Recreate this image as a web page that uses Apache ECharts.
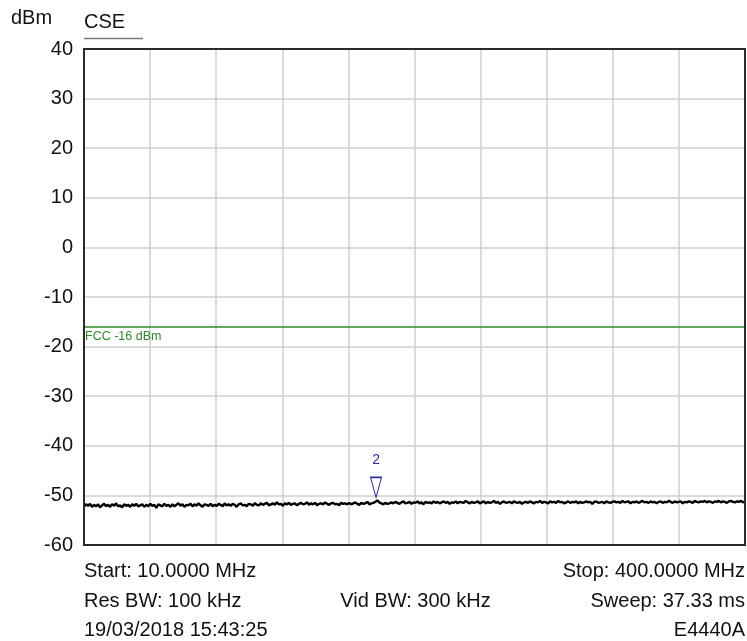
<!DOCTYPE html>
<html>
<head>
<meta charset="utf-8">
<script src="https://cdn.jsdelivr.net/npm/echarts@6/dist/echarts.min.js"></script>
<style>
html,body{margin:0;padding:0;background:#fff;}
#chart{width:747px;height:641px;}
</style>
</head>
<body>
<div id="chart"></div>
<script>
// ---- Data ----
const freqStartMHz = 10;
const freqStopMHz = 400;
const yTicks = [40, 30, 20, 10, 0, -10, -20, -30, -40, -50, -60];
const traceLevels = [
-52.2,-51.8,-52.1,-51.7,-52.3,-51.9,-52.2,-51.8,-52.4,-52.0,-51.7,-52.2,-51.9,-52.3,-51.8,-52.1,-51.6,-52.2,-52.0,-52.4,-51.8,-52.1,
-51.9,-52.3,-51.8,-52.1,-51.7,-52.2,-52.0,-51.8,-52.3,-51.9,-52.2,-51.7,-52.1,-51.9,-52.5,-51.8,-52.0,-52.2,-51.7,-52.1,-51.9,-52.3,
-51.8,-52.2,-51.9,-51.6,-52.1,-51.8,-52.3,-51.9,-52.0,-51.7,-52.2,-51.8,-52.1,-51.6,-52.0,-52.3,-51.8,-51.9,-52.1,-51.7,-52.2,-51.9,
-52.1,-51.7,-51.9,-52.2,-51.6,-52.0,-51.8,-52.1,-51.7,-51.9,-52.3,-51.8,-51.6,-52.0,-51.9,-52.2,-51.7,-51.8,-52.1,-51.6,-51.9,-52.0,
-51.6,-51.9,-51.7,-51.5,-52.0,-51.8,-51.6,-51.9,-51.4,-51.8,-51.7,-52.1,-51.6,-51.8,-51.5,-51.9,-51.7,-51.6,-52.0,-51.7,-51.5,-51.8,
-51.7,-51.4,-51.9,-51.6,-51.8,-51.5,-52.0,-51.7,-51.6,-51.8,-51.4,-51.7,-51.9,-51.6,-51.5,-51.8,-51.7,-52.0,-51.5,-51.7,-51.6,-51.8,
-51.5,-51.8,-51.6,-51.4,-51.7,-51.9,-51.5,-51.7,-51.6,-51.3,-51.8,-51.6,-51.5,-51.3,-51.0,-51.4,-51.6,-51.8,-51.5,-51.7,-51.6,-51.4,
-51.6,-51.3,-51.5,-51.7,-51.4,-51.2,-51.6,-51.5,-51.3,-51.7,-51.4,-51.5,-51.2,-51.6,-51.4,-51.8,-51.3,-51.5,-51.4,-51.6,-51.2,-51.5,
-51.3,-51.6,-51.4,-51.2,-51.5,-51.3,-51.7,-51.4,-51.5,-51.2,-51.6,-51.3,-51.4,-51.5,-51.1,-51.4,-51.6,-51.3,-51.5,-51.4,-51.2,-51.6,
-51.4,-51.2,-51.6,-51.3,-51.5,-51.4,-51.1,-51.5,-51.3,-51.7,-51.4,-51.2,-51.5,-51.4,-51.3,-51.6,-51.2,-51.4,-51.5,-51.3,-51.7,-51.4,
-51.3,-51.5,-51.2,-51.4,-51.6,-51.3,-51.4,-51.1,-51.5,-51.3,-51.4,-51.6,-51.2,-51.4,-51.3,-51.5,-51.1,-51.4,-51.3,-51.6,-51.4,-51.2,
-51.5,-51.3,-51.4,-51.2,-51.6,-51.3,-51.5,-51.4,-51.2,-51.4,-51.3,-51.7,-51.3,-51.2,-51.5,-51.4,-51.3,-51.6,-51.2,-51.4,-51.5,-51.3,
-51.2,-51.4,-51.3,-51.5,-51.1,-51.4,-51.3,-51.2,-51.6,-51.3,-51.4,-51.2,-51.5,-51.3,-51.1,-51.4,-51.3,-51.5,-51.2,-51.4,-51.3,-51.6,
-51.3,-51.2,-51.5,-51.3,-51.4,-51.1,-51.3,-51.5,-51.2,-51.4,-51.3,-51.2,-51.6,-51.3,-51.4,-51.2,-51.3,-51.5,-51.1,-51.3,-51.4,-51.2,
-51.3,-51.1,-51.4,-51.2,-51.3,-51.5,-51.2,-51.3,-51.1,-51.4,-51.2,-51.3,-51.5,-51.2,-51.1,-51.3,-51.4,-51.2,-51.3,-51.1,-51.4,-51.2
];
const limitLevel = -16;
const limitLabel = 'FCC -16 dBm';
const markerName = '2';
const markerFreqMHz = 182.3;
const markerLevel = -51.0;
const yUnit = 'dBm';
const traceTitle = 'CSE';
const footerRows = [
  ['Start: 10.0000 MHz', '', 'Stop: 400.0000 MHz'],
  ['Res BW: 100 kHz', 'Vid BW: 300 kHz', 'Sweep: 37.33 ms'],
  ['19/03/2018 15:43:25', '', 'E4440A']
];

// ---- Build ----
const step = (freqStopMHz - freqStartMHz) / (traceLevels.length - 1);
const traceData = traceLevels.map((v, i) => [freqStartMHz + i * step, v]);

const FONT = 'Liberation Sans, Arial, sans-serif';
const L = 84, R = 745, T = 49, B = 545;
const rowY = [571, 601, 630];
const graphics = [
  {type:'text', x:11, y:18, style:{text:yUnit, font:'20px ' + FONT, fill:'#111', textVerticalAlign:'middle'}},
  {type:'text', x:84, y:22, style:{text:traceTitle, font:'20px ' + FONT, fill:'#111', textVerticalAlign:'middle'}},
  {type:'line', shape:{x1:84, y1:38.5, x2:143, y2:38.5}, style:{stroke:'#777', lineWidth:1.5}}
];
footerRows.forEach((row, r) => {
  if (row[0]) graphics.push({type:'text', x:L, y:rowY[r], style:{text:row[0], font:'20px ' + FONT, fill:'#111', textAlign:'left', textVerticalAlign:'middle'}});
  if (row[1]) graphics.push({type:'text', x:415.5, y:rowY[r], style:{text:row[1], font:'20px ' + FONT, fill:'#111', textAlign:'center', textVerticalAlign:'middle'}});
  if (row[2]) graphics.push({type:'text', x:R, y:rowY[r], style:{text:row[2], font:'20px ' + FONT, fill:'#111', textAlign:'right', textVerticalAlign:'middle'}});
});

const chart = echarts.init(document.getElementById('chart'), null, {renderer:'canvas'});
chart.setOption({
  animation:false,
  backgroundColor:'#fff',
  grid:{left:L, right:747-R, top:T, bottom:641-B, show:true, borderColor:'#2a2a2a', borderWidth:2, containLabel:false, z:10},
  xAxis:[
    {type:'value', min:freqStartMHz, max:freqStopMHz, show:false},
    {type:'value', min:0, max:10, interval:1, position:'bottom',
     axisLine:{show:false}, axisTick:{show:false}, axisLabel:{show:false},
     splitLine:{show:true, showMinLine:false, showMaxLine:false, lineStyle:{color:'#cfcfcf', width:1.5}}}
  ],
  yAxis:{type:'value', min:yTicks[yTicks.length-1], max:yTicks[0], interval:10,
    axisLine:{show:false}, axisTick:{show:false},
    axisLabel:{fontSize:20, fontFamily:FONT, color:'#111', margin:11},
    splitLine:{show:true, showMinLine:false, showMaxLine:false, lineStyle:{color:'#cfcfcf', width:1.5}}},
  series:[{
    type:'line', xAxisIndex:0, data:traceData, showSymbol:false, symbol:'none',
    lineStyle:{color:'#000', width:2.4},
    markLine:{
      silent:true, symbol:'none',
      lineStyle:{color:'#2a8a2a', width:1.5, type:'solid'},
      label:{show:true, position:'insideStartBottom', formatter:limitLabel, color:'#2a8a2a',
             fontFamily:FONT, fontSize:12.5, distance:[1, 3]},
      data:[{yAxis:limitLevel}]
    },
    markPoint:{
      silent:true,
      symbol:'path://M0,0 L10,0 L5,20 Z',
      symbolSize:[11, 20],
      symbolOffset:[0, -13],
      itemStyle:{color:'rgba(0,0,0,0)', borderColor:'#2b2ba0', borderWidth:1.2},
      label:{show:true, position:'top', distance:9, formatter:markerName, color:'#2b2ba0', fontSize:14, fontFamily:FONT},
      data:[{coord:[markerFreqMHz, markerLevel]}]
    }
  }],
  graphic:graphics
});
</script>
</body>
</html>
